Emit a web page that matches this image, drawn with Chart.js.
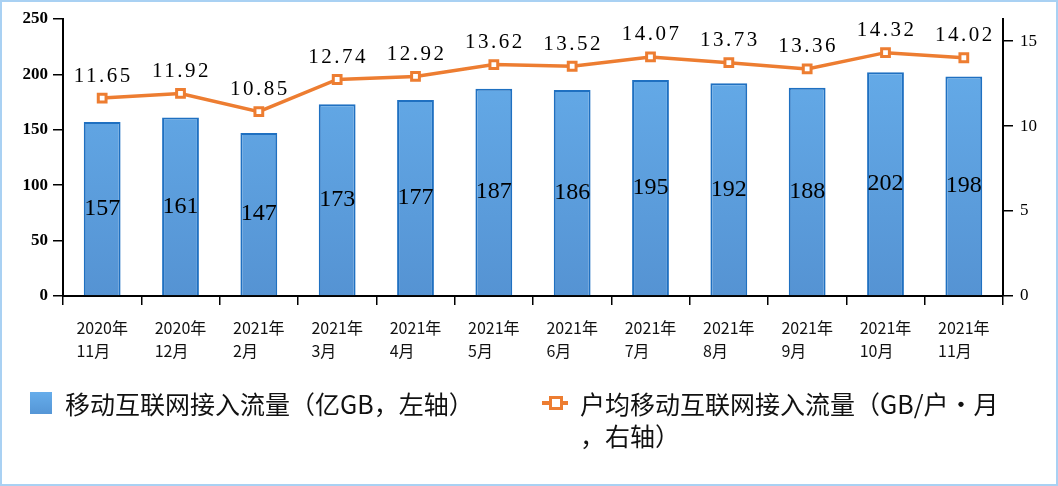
<!DOCTYPE html>
<html>
<head>
<meta charset="utf-8">
<script src="https://cdn.jsdelivr.net/npm/chart.js@4.4.1/dist/chart.umd.min.js"></script>
<style>
  html, body { margin: 0; padding: 0; background: #fff; }
  #wrap { position: relative; width: 1058px; height: 486px; overflow: hidden; }
  #frame { position: absolute; left: 0; top: 0; width: 1058px; height: 486px; box-sizing: border-box;
           border: 2px solid #a9d1f3; pointer-events: none; }
  .legend { position: absolute; font-family: "Noto Sans CJK SC", sans-serif; font-size: 25px;
            line-height: 32px; color: #111; }
  .swatch { position: absolute; left: 30px; top: 392px; width: 22px; height: 22px;
            background: linear-gradient(#66adeb, #5596d6); }
  .lineMark { position: absolute; left: 542px; top: 401px; width: 26px; height: 4px; background: #ed7d31; }
  .lineMark span { position: absolute; left: 7px; top: -5px; width: 8px; height: 8px; background: #fff;
                   border: 3px solid #ed7d31; }
</style>
</head>
<body>
<div id="wrap">
  <canvas id="chart" width="1058" height="486"></canvas>
  <div class="swatch"></div>
  <div class="legend" style="left:65px; top:387px;">移动互联网接入流量（亿GB，左轴）</div>
  <div class="lineMark"><span></span></div>
  <div class="legend" style="left:580px; top:387px;">户均移动互联网接入流量（GB/户•月<br>，右轴）</div>
  <div id="frame"></div>
</div>
<script>
const years = ["2020年", "2020年", "2021年", "2021年", "2021年", "2021年", "2021年", "2021年", "2021年", "2021年", "2021年", "2021年"];
const months = ["11月", "12月", "2月", "3月", "4月", "5月", "6月", "7月", "8月", "9月", "10月", "11月"];
const traffic = [157, 161, 147, 173, 177, 187, 186, 195, 192, 188, 202, 198];
const perUser = [11.65, 11.92, 10.85, 12.74, 12.92, 13.62, 13.52, 14.07, 13.73, 13.36, 14.32, 14.02];
const leftTicks = [0, 50, 100, 150, 200, 250];
const rightTicks = [0, 5, 10, 15];

const labels = years.map((y, i) => [y, months[i]]);
const xFont = "16px 'Noto Sans CJK SC', sans-serif";

// 数值标签 + 左对齐的横轴标签
const valueLabels = {
  id: "valueLabels",
  afterDatasetsDraw(chart) {
    const ctx = chart.ctx;
    ctx.save();
    ctx.fillStyle = "#000";
    ctx.textAlign = "center";
    ctx.textBaseline = "middle";
    chart.data.datasets.forEach((ds, di) => {
      const meta = chart.getDatasetMeta(di);
      meta.data.forEach((el, i) => {
        if (ds.type === "bar") {
          ctx.font = "24px 'Liberation Serif', serif";
          ctx.letterSpacing = "0px";
          ctx.fillText(String(ds.data[i]), el.x, (el.y + el.base) / 2);
        } else {
          ctx.font = "21px 'Liberation Serif', serif";
          ctx.letterSpacing = "2.5px";
          ctx.fillText(ds.data[i].toFixed(2), el.x + 1, el.y - 22);
        }
      });
    });
    ctx.restore();
  },
  afterDraw(chart) {
    const ctx = chart.ctx;
    const xs = chart.scales.x;
    ctx.save();
    ctx.font = xFont;
    ctx.fillStyle = "#111";
    ctx.textAlign = "left";
    ctx.textBaseline = "middle";
    labels.forEach((lines, i) => {
      const x = xs.getPixelForTick(i);
      const w = ctx.measureText(lines[0]).width;
      ctx.fillText(lines[0], x - w / 2, xs.top + 32);
      ctx.fillText(lines[1], x - w / 2, xs.top + 55);
    });
    ctx.restore();
  }
};

function barFill(context) {
  const area = context.chart.chartArea;
  if (!area) return "#5ea3e5";
  const g = context.chart.ctx.createLinearGradient(0, area.top, 0, area.bottom);
  g.addColorStop(0, "#67afec");
  g.addColorStop(1, "#5593d3");
  return g;
}

new Chart(document.getElementById("chart"), {
  data: {
    labels: labels,
    datasets: [
      {
        type: "line",
        label: "户均移动互联网接入流量（GB/户•月，右轴）",
        data: perUser,
        yAxisID: "y1",
        order: 0,
        borderColor: "#ed7d31",
        borderWidth: 3.5,
        tension: 0,
        pointStyle: "rect",
        pointRadius: 5.5,
        pointBackgroundColor: "#fff",
        pointBorderColor: "#ed7d31",
        pointBorderWidth: 3
      },
      {
        type: "bar",
        label: "移动互联网接入流量（亿GB，左轴）",
        data: traffic,
        yAxisID: "y",
        order: 1,
        backgroundColor: barFill,
        borderColor: "#1f70c1",
        borderWidth: 2,
        categoryPercentage: 1,
        barPercentage: 0.47
      }
    ]
  },
  options: {
    responsive: false,
    devicePixelRatio: 1,
    animation: false,
    layout: { padding: { top: 19, left: 0, right: 0, bottom: 120 } },
    plugins: {
      legend: { display: false },
      tooltip: { enabled: false }
    },
    scales: {
      x: {
        offset: true,
        grid: { display: true, drawOnChartArea: false, offset: true, tickLength: 9, color: "#000", lineWidth: 1.5 },
        border: { color: "#000", width: 2 },
        ticks: {
          color: "rgba(0,0,0,0)",
          font: { family: "'Noto Sans CJK SC', sans-serif", size: 16, lineHeight: 1.5 },
          maxRotation: 0,
          autoSkip: false,
          padding: 8
        },
        afterFit(scale) { scale.height = 70; }
      },
      y: {
        position: "left",
        min: 0,
        max: 250,
        grid: { display: true, drawOnChartArea: false, tickLength: 10, color: "#000", lineWidth: 1.5 },
        border: { color: "#000", width: 2 },
        ticks: {
          stepSize: 50,
          color: "#000",
          padding: 5,
          font: { family: "'Liberation Serif', serif", size: 17, weight: "bold" }
        },
        afterBuildTicks(scale) { scale.ticks = leftTicks.map(v => ({ value: v })); },
        afterFit(scale) { scale.width = 63; }
      },
      y1: {
        position: "right",
        min: 0,
        max: 16.3,
        grid: { display: true, drawOnChartArea: false, tickLength: 10, color: "#000", lineWidth: 1.5 },
        border: { color: "#000", width: 2 },
        ticks: {
          color: "#000",
          padding: 7,
          font: { family: "'Liberation Serif', serif", size: 17 }
        },
        afterBuildTicks(scale) { scale.ticks = rightTicks.map(v => ({ value: v })); },
        afterFit(scale) { scale.width = 55; }
      }
    }
  },
  plugins: [valueLabels]
});
</script>
</body>
</html>
